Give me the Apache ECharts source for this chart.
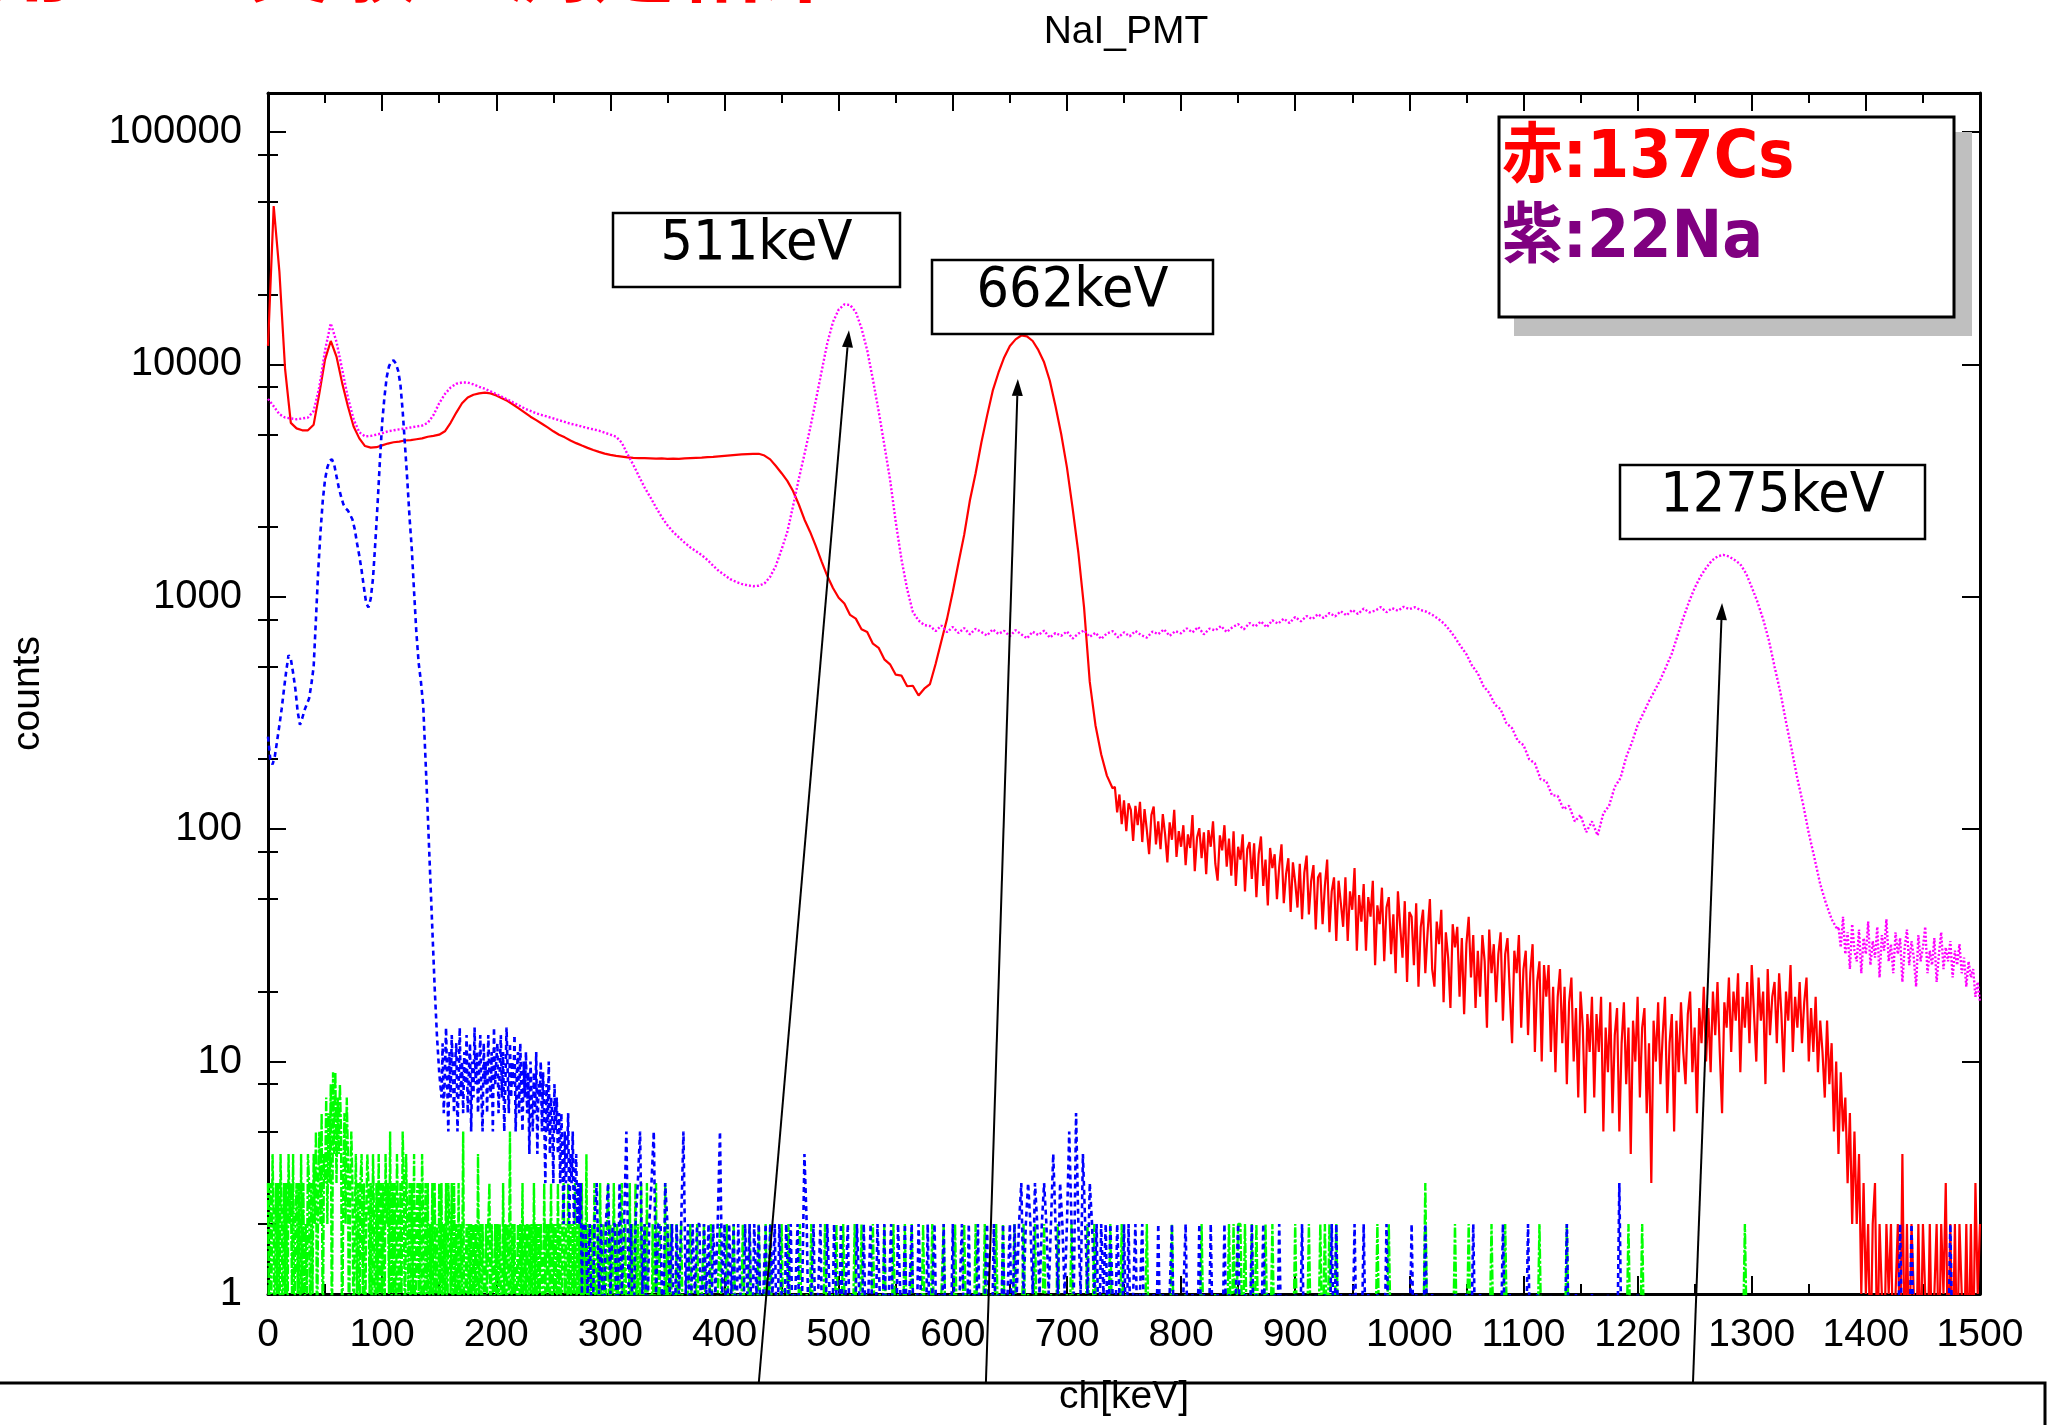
<!DOCTYPE html>
<html>
<head>
<meta charset="utf-8">
<title>NaI_PMT</title>
<script src="https://cdn.jsdelivr.net/npm/echarts@6/dist/echarts.min.js"></script>
<style>
  html, body { margin: 0; padding: 0; background: #ffffff; }
  #chart { width: 2049px; height: 1425px; }
</style>
</head>
<body>
<div id="chart"></div>
<script>
// ---------------------------------------------------------------
// Spectrum data (counts per bin)
// ---------------------------------------------------------------

// 137Cs, 5 keV bins, 0 .. 740 keV
const cs137Head = [
  12000, 48000, 25000, 9500, 5600, 5300, 5200, 5200, 5500, 7500,
  10500, 12600, 10800, 8300, 6600, 5400, 4800, 4450, 4380, 4400,
  4480, 4560, 4620, 4650, 4700, 4720, 4760, 4800, 4880, 4920,
  4980, 5150, 5600, 6200, 6800, 7200, 7400, 7500, 7550, 7500,
  7350, 7150, 6950, 6700, 6450, 6200, 5950, 5750, 5550, 5350,
  5150, 4980, 4850, 4700, 4580, 4470, 4370, 4280, 4200, 4130,
  4080, 4040, 4010, 3980, 3960, 3950, 3950, 3940, 3930, 3940,
  3920, 3930, 3920, 3940, 3950, 3960, 3970, 3990, 4000, 4020,
  4040, 4060, 4080, 4100, 4110, 4120, 4120, 4050, 3900, 3650,
  3400, 3150, 2850, 2500, 2150, 1900, 1650, 1420, 1230, 1090,
  990, 935, 835, 805, 725, 705, 628, 603, 538, 512,
  462, 458, 412, 414, 376, 402, 421, 515, 645, 805,
  1050, 1400, 1850, 2600, 3400, 4600, 6000, 7700, 9200, 10700,
  12000, 12800, 13300, 13200, 12600, 11500, 10200, 8500, 6600, 5000,
  3600, 2400, 1550, 900, 430, 280, 210, 170, 150
];

// 137Cs, 2 keV bins, 742 .. 1500 keV
const cs137Tail = [
  152, 118, 141, 105, 133, 98, 129, 121, 89, 126,
  104, 131, 88, 122, 99, 78, 115, 125, 86, 108,
  82, 116, 95, 72, 107, 90, 121, 76, 98, 84,
  104, 70, 95, 83, 115, 66, 92, 101, 75, 97,
  64, 99, 84, 108, 71, 60, 94, 81, 104, 69,
  91, 63, 98, 57, 84, 74, 95, 54, 82, 88,
  61, 87, 51, 78, 93, 57, 74, 47, 83, 68,
  78, 50, 69, 86, 48, 64, 75, 44, 72, 59,
  46, 71, 41, 65, 77, 43, 60, 70, 37, 62,
  65, 39, 57, 74, 36, 54, 62, 33, 60, 48,
  38, 62, 33, 54, 45, 68, 30, 52, 40, 58,
  30, 51, 42, 60, 26, 47, 39, 56, 27, 46,
  51, 29, 43, 24, 54, 38, 28, 49, 22, 44,
  42, 26, 48, 21, 38, 45, 24, 36, 50, 25,
  21, 40, 32, 45, 18, 36, 28, 17, 39, 31,
  38, 19, 34, 16, 32, 42, 23, 35, 17, 30,
  19, 35, 27, 14, 37, 24, 32, 18, 29, 36,
  15, 29, 34, 20, 12, 30, 24, 35, 14, 25,
  30, 13, 24, 32, 11, 22, 27, 10, 26, 19,
  26, 11, 21, 9, 19, 25, 12, 21, 8, 18,
  23, 10, 17, 7, 20, 14, 6, 16, 11, 19,
  7, 16, 11, 19, 5, 14, 9, 18, 6, 13,
  17, 5, 12, 18, 8, 14, 4, 15, 10, 19,
  7, 14, 17, 6, 12, 3, 15, 10, 18, 8,
  13, 19, 6, 12, 16, 5, 15, 9, 18, 11,
  8, 16, 20, 9, 14, 6, 17, 12, 21, 10,
  17, 9, 20, 13, 22, 11, 6, 18, 14, 23,
  11, 20, 15, 24, 9, 19, 14, 22, 12, 26,
  16, 10, 23, 15, 20, 8, 25, 13, 19, 22,
  12, 24, 16, 9, 20, 15, 26, 11, 19, 14,
  22, 12, 18, 23, 10, 17, 11, 19, 9, 15,
  11, 7, 15, 8, 12, 5, 10, 4, 9, 5,
  7, 3, 6, 2, 5, 2, 4, 1, 3, 1,
  2, 0, 2, 3, 0, 2, 1, 0, 2, 1,
  2, 0, 1, 2, 0, 4, 0, 2, 0, 2,
  1, 0, 2, 0, 2, 1, 0, 2, 0, 1,
  2, 0, 2, 1, 3, 0, 2, 0, 2, 0,
  2, 1, 0, 2, 0, 2, 0, 3, 1, 2
];

// 22Na, 5 keV bins, 0 .. 1375 keV
const na22Head = [
  7100, 6600, 6100, 5900, 5850, 5800, 5850, 5900, 6300, 8000,
  11500, 15000, 12500, 9500, 7200, 5800, 5100, 4900, 4920, 4980,
  5050, 5150, 5200, 5250, 5300, 5350, 5400, 5450, 5600, 6050,
  6800, 7450, 7950, 8250, 8350, 8350, 8200, 8000, 7850, 7650,
  7450, 7250, 7050, 6850, 6650, 6450, 6300, 6150, 6050, 5950,
  5850, 5750, 5650, 5550, 5480, 5400, 5320, 5250, 5180, 5080,
  4980, 4880, 4600, 4100, 3700, 3300, 2950, 2680, 2420, 2200,
  2030, 1900, 1800, 1710, 1630, 1570, 1510, 1440, 1360, 1290,
  1240, 1190, 1160, 1135, 1120, 1110, 1115, 1140, 1220, 1360,
  1600, 1900, 2450, 3200, 4100, 5300, 7000, 9300, 12300, 15200,
  17200, 18100, 18000, 16800, 14300, 11500, 8600, 6300, 4500, 3200,
  2100, 1450, 1080, 860, 790, 755, 748, 712, 752, 704,
  741, 698, 733, 689, 728, 705, 681, 724, 692, 713,
  676, 718, 689, 662, 707, 684, 715, 667, 698, 679,
  709, 661, 694, 717, 672, 700, 658, 695, 711, 668,
  703, 676, 712, 684, 667, 708, 690, 724, 679, 711,
  696, 731, 702, 741, 689, 729, 716, 748, 705, 739,
  762, 724, 771, 745, 783, 739, 792, 766, 805, 771,
  818, 784, 826, 801, 842, 809, 851, 823, 866, 831,
  878, 843, 889, 856, 871, 902, 858, 893, 870, 905,
  884, 901, 876, 862, 836, 806, 770, 722, 668, 612,
  566, 505, 468, 412, 386, 343, 328, 286, 272, 240,
  230, 200, 192, 164, 161, 140, 139, 122, 126, 108,
  115, 97, 108, 94, 117, 126, 152, 166, 204, 236,
  280, 315, 355, 395, 440, 500, 570, 680, 810, 950,
  1090, 1220, 1330, 1430, 1490, 1515, 1490, 1440, 1380, 1260,
  1100, 950, 800, 650, 500, 390, 290, 220, 165, 128,
  96, 75, 58, 48, 41, 37
];

// 22Na, 2 keV bins, 1376 .. 1500 keV
const na22Tail = [
  38, 31, 42, 29, 36, 25, 39, 30, 27, 37,
  24, 34, 29, 40, 26, 33, 28, 38, 23, 35,
  30, 41, 27, 32, 24, 36, 29, 34, 22, 31,
  37, 26, 33, 28, 21, 35, 27, 31, 38, 24,
  30, 26, 34, 22, 29, 36, 25, 31, 27, 33,
  23, 30, 26, 32, 24, 28, 21, 27, 23, 25,
  19, 22, 18
];

// Background run, 2 keV bins, 0 .. 150 keV
const bkgHead = [
  250, 200, 190, 206, 240, 280, 330, 400, 480, 560,
  540, 470, 400, 320, 281, 300, 325, 345, 365, 420,
  500, 800, 1300, 1900, 2600, 3200, 3600, 3850, 3900, 3700,
  3300, 2950, 2700, 2500, 2400, 2350, 2250, 2150, 1950, 1700,
  1500, 1300, 1100, 940, 900, 980, 1200, 1700, 2500, 3800,
  5600, 7200, 8800, 9800, 10300, 10400, 10100, 9400, 8200, 6300,
  4500, 3200, 2200, 1600, 1050, 700, 520, 430, 340, 200,
  115, 65, 37, 21, 13, 9
];

// Background run, 1 keV bins, 152 .. 277 keV
const bkgMid = [
  7, 12, 6, 9, 14, 8, 5, 11, 7, 13, 9, 6, 10, 12, 5, 8, 14, 7, 10, 6,
  11, 8, 13, 6, 9, 12, 5, 10, 7, 14, 8, 11, 6, 9, 13, 7, 5, 12, 8, 10,
  6, 13, 9, 7, 11, 5, 14, 8, 10, 12, 6, 9, 13, 7, 11, 5, 8, 14, 9, 6,
  12, 7, 10, 8, 13, 5, 9, 11, 6, 12, 8, 5, 10, 7, 11, 6, 9, 4, 10, 7,
  5, 9, 6, 11, 4, 8, 7, 10, 5, 9, 6, 3, 8, 5, 10, 4, 7, 6, 3, 8,
  5, 7, 4, 6, 3, 6, 4, 2, 5, 3, 4, 6, 2, 4, 3, 5, 2, 3, 4, 2,
  3, 2, 3, 1, 2, 2
];

// Background run, 2 keV bins, 278 .. 1500 keV (one digit per bin)
const bkgLow =
  "21202312023122031251" + "20235120235122032120" + "21251202122021202125" +
  "12021202102120212012" + "02120210212012014201" + "20120021021020120102" +
  "10201200210201200210" + "20120021002012010201" + "02001200201020012002" +
  "01020120212312321321" + "23212421321252162142" + "13212021202102102020" +
  "12012010010201001201" + "00120010020100200100" + "20100120010020100201" +
  "00102001000100201000" + "10001002020100010200" + "02010001000200100010" +
  "00201000200100001000" + "01000010020010000100" + "00200100001002000100" +
  "00010000002000100000" + "01000000100003000000" + "01000000000000000000" +
  "00000000000000000000" + "00000000000000000000" + "00000000000000000000" +
  "00000000000000000000" + "00000000000000002000" + "02000000000000000020" +
  "000000000000";

// Pedestal run, 1 keV bins, 0 .. 359 keV (one digit per bin)
const pedHead =
  "30314203130420313042" + "31402313041302143031" + "42503526043726380949" +
  "37485036274035302413" + "03413024313042031403" + "13042315031304203153" +
  "04213031402313042031" + "30213031203130213032" + "13031203021501202120" +
  "21204120210212302102" + "12021031202150212012" + "02130212021203120212" +
  "20312021302120312023" + "12031202130212030214" + "02002130020310200230" +
  "20031020023002010302" + "00302013002030010200" + "30020010302002001020";

// Pedestal run, 2 keV bins, 360 .. 1500 keV (one digit per bin)
const pedTail =
  "02001200201200200120" + "02002010200201020020" + "20010200201002001020" +
  "01002001020020010200" + "20100200102000201002" + "00201002010200012001" +
  "02000201002000200102" + "00200102000201002000" + "20010020001020010002" +
  "00200010020000201000" + "00000200000100002000" + "00100000020000010000" +
  "02020220200202000200" + "20000000002000002000" + "02020200200000000000" +
  "00000020000200000000" + "00000003000000000000" + "20000020000000002000" +
  "00200000000000000200" + "00000000020000000000" + "00000000000000002000" +
  "00200000000000000000" + "00000000000000000000" + "00000002000000000000" +
  "00000000000000000000" + "00000000000000000000" + "00000000000000000000" +
  "00000000000000000000" + "00000000000";

// Axis ticks
const xTickStep = 100;
const yMajorTicks = [1, 10, 100, 1000, 10000, 100000];
const yMinorTicks = [2, 5, 8, 20, 50, 80, 200, 500, 800, 2000, 5000, 8000,
                     20000, 50000, 80000];
const yTop = 147000;

// Annotation texts
const peakLabels = ['511keV', '662keV', '1275keV'];
const legendLines = ['赤:137Cs', '紫:22Na'];
const headline = '用いた実験の測定結果';
const titleText = 'NaI_PMT';

// ---------------------------------------------------------------
// Helpers
// ---------------------------------------------------------------
// Empty bins cannot sit on a log axis; park them just under the floor.
const FLOOR = 0.5;
function bins(start, step, values) {
  const out = [];
  for (let i = 0; i < values.length; i++) {
    const v = Number(values[i]);
    out.push([start + i * step, v > 0 ? v : FLOOR]);
  }
  return out;
}

const cs137 = bins(0, 5, cs137Head).concat(bins(742, 2, cs137Tail));
const na22 = bins(0, 5, na22Head).concat(bins(1376, 2, na22Tail));
const bkg = bins(0, 2, bkgHead).concat(bins(152, 1, bkgMid), bins(278, 2, bkgLow.split('')));
const ped = bins(0, 1, pedHead.split('')).concat(bins(360, 2, pedTail.split('')));

// ---------------------------------------------------------------
// Chart
// ---------------------------------------------------------------
const chart = echarts.init(document.getElementById('chart'), null, {
  renderer: 'canvas', width: 2049, height: 1425
});

const FONT = 'Liberation Sans';
const black = '#000000';
const frameLine = { show: true, onZero: false, lineStyle: { color: black, width: 3 } };
const tickMajor = { show: true, inside: true, length: 18, lineStyle: { color: black, width: 2 } };
const tickMinor = { show: true, inside: true, length: 10, lineStyle: { color: black, width: 2 } };

function xAxisDef(position, withLabels) {
  return {
    type: 'value', position: position, min: 0, max: 1500, interval: xTickStep,
    axisLine: frameLine,
    axisTick: tickMajor,
    minorTick: { show: true, splitNumber: 2, length: 10, lineStyle: { color: black, width: 2 } },
    splitLine: { show: false }, minorSplitLine: { show: false },
    axisLabel: withLabels ? {
      show: true, color: black, fontFamily: FONT, fontSize: 39, margin: 22,
      formatter: v => String(Math.round(v))
    } : { show: false }
  };
}

function yAxisDef(position, ticks, major, withLabels) {
  return {
    type: 'log', logBase: 10, position: position, min: 1, max: yTop,
    axisLine: major ? frameLine : { show: false },
    axisTick: Object.assign({}, major ? tickMajor : tickMinor, { customValues: ticks }),
    splitLine: { show: false }, minorTick: { show: false },
    axisLabel: withLabels ? {
      show: true, color: black, fontFamily: FONT, fontSize: 40, margin: 26,
      customValues: ticks,
      formatter: v => String(Math.round(v))
    } : { show: false }
  };
}

const xAxes = [xAxisDef('bottom', true), xAxisDef('top', false)];
Object.assign(xAxes[0], {
  name: 'ch[keV]', nameLocation: 'middle', nameGap: 84,
  nameTextStyle: { color: black, fontFamily: FONT, fontSize: 39 }
});

const yAxes = [
  yAxisDef('left', yMajorTicks, true, true),
  yAxisDef('left', yMinorTicks, false, false),
  yAxisDef('right', yMajorTicks, true, false),
  yAxisDef('right', yMinorTicks, false, false)
];
Object.assign(yAxes[0], {
  name: 'counts', nameLocation: 'middle', nameGap: 220, nameRotate: 90,
  nameTextStyle: { color: black, fontFamily: FONT, fontSize: 39 }
});

function lineSeries(name, data, color, dash, width) {
  return {
    type: 'line', name: name, data: data, xAxisIndex: 0, yAxisIndex: 0,
    showSymbol: false, symbol: 'none', clip: true, silent: true,
    lineStyle: { color: color, width: width, type: dash },
    emphasis: { disabled: true }
  };
}

chart.setOption({
  animation: false,
  backgroundColor: '#ffffff',
  title: {
    text: titleText, left: 1121, top: 8, textAlign: 'center',
    textStyle: { color: black, fontFamily: FONT, fontSize: 39, fontWeight: 'normal' }
  },
  grid: { left: 268, right: 69, top: 93, bottom: 131, outerBoundsMode: 'none', containLabel: false },
  xAxis: xAxes,
  yAxis: yAxes,
  series: [
    lineSeries('137Cs', cs137, '#ff0000', 'solid', 2.2),
    lineSeries('22Na', na22, '#ff00ff', [2, 2], 2.4),
    lineSeries('pedestal', ped, '#00ff00', [10, 2, 3, 2], 2.4),
    lineSeries('background', bkg, '#0000ff', [5, 4], 2.6)
  ]
});

// ---------------------------------------------------------------
// Annotations: peak labels with arrows, legend box, framing
// ---------------------------------------------------------------
function px(x, y) {
  return chart.convertToPixel({ xAxisIndex: 0, yAxisIndex: 0 }, [x, y]);
}

const gridBottomPx = px(0, 1)[1];
const footY = gridBottomPx + 89;

const arrowDefs = [
  { tip: [509, 14000], foot: 430 },
  { tip: [657, 8650], foot: 629 },
  { tip: [1274, 940], foot: 1248.5 }
];
const labelBoxes = [
  [613, 213, 287, 74],
  [932, 260, 281, 74],
  [1620, 465, 305, 74]
];

const graphics = [];

// headline above the chart (mostly outside the page)
graphics.push({
  type: 'text', x: -12, y: -38, z: 100,
  style: {
    text: headline, fill: '#ff0000', align: 'left', verticalAlign: 'middle',
    font: 'bold 86px "Noto Sans CJK JP"'
  }
});

// bottom panel frame
graphics.push({
  type: 'rect', z: 100,
  shape: { x: -3, y: footY, width: 2048, height: 80 },
  style: { fill: 'none', stroke: black, lineWidth: 3 }
});

// arrows
arrowDefs.forEach(a => {
  const t = px(a.tip[0], a.tip[1]);
  const f = [px(a.foot, 1)[0], footY];
  const dx = t[0] - f[0], dy = t[1] - f[1];
  const len = Math.sqrt(dx * dx + dy * dy);
  const ux = dx / len, uy = dy / len;
  const headLen = 17, halfW = 5.5;
  const bx = t[0] - ux * headLen, by = t[1] - uy * headLen;
  const nx = -uy, ny = ux;
  graphics.push({
    type: 'line', z: 101,
    shape: { x1: f[0], y1: f[1], x2: bx, y2: by },
    style: { stroke: black, lineWidth: 2 }
  });
  graphics.push({
    type: 'polygon', z: 101,
    shape: { points: [[t[0], t[1]], [bx + nx * halfW, by + ny * halfW], [bx - nx * halfW, by - ny * halfW]] },
    style: { fill: black }
  });
});

// peak label boxes
labelBoxes.forEach((b, i) => {
  graphics.push({
    type: 'rect', z: 102,
    shape: { x: b[0], y: b[1], width: b[2], height: b[3] },
    style: { fill: '#ffffff', stroke: black, lineWidth: 2.5 }
  });
  graphics.push({
    type: 'text', z: 103, x: b[0] + b[2] / 2, y: b[1] + 32, scaleX: 0.93,
    style: {
      text: peakLabels[i], fill: black, align: 'center', verticalAlign: 'middle',
      font: '55px "DejaVu Sans"'
    }
  });
});

// legend box with drop shadow
graphics.push({
  type: 'rect', z: 102,
  shape: { x: 1514, y: 132, width: 458, height: 204 },
  style: { fill: '#bfbfbf' }
});
graphics.push({
  type: 'rect', z: 103,
  shape: { x: 1499, y: 117, width: 455, height: 200 },
  style: { fill: '#ffffff', stroke: black, lineWidth: 3 }
});
const legendColors = ['#ff0000', '#800080'];
const legendY = [160, 240];
legendLines.forEach((s, i) => {
  graphics.push({
    type: 'text', z: 104, x: 1502, y: legendY[i], scaleX: 0.92,
    style: {
      text: s, fill: legendColors[i], align: 'left', verticalAlign: 'middle',
      font: 'bold 66px "DejaVu Sans", "Noto Sans CJK JP"'
    }
  });
});

chart.setOption({ graphic: { elements: graphics } });
</script>
</body>
</html>
